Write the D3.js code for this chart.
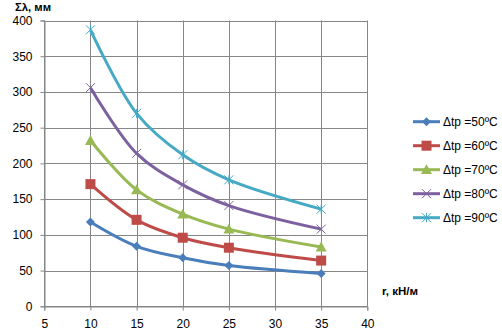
<!DOCTYPE html>
<html>
<head>
<meta charset="utf-8">
<script src="https://cdn.jsdelivr.net/npm/d3@7"></script>
<style>
  html, body { margin: 0; padding: 0; background: #fff; }
  svg { display: block; font-family: "Liberation Sans", Arial, sans-serif; }
</style>
</head>
<body>
<svg id="chart" width="502" height="336"></svg>
<script>
// Loads on r (kN/m) for several temperature differences
const rValues = [10, 15, 20, 25, 35];
const seriesNames = ["Δtp =50ºC", "Δtp =60ºC", "Δtp =70ºC", "Δtp =80ºC", "Δtp =90ºC"];
const s50 = [118, 84, 68, 57, 46];
const s60 = [171, 121, 96, 82, 64];
const s70 = [232, 163, 129, 108, 83];
const s80 = [306, 214, 170, 141, 108];
const s90 = [387, 270, 212, 177, 136];
const xTicks = [5, 10, 15, 20, 25, 30, 35, 40];
const yTicks = [0, 50, 100, 150, 200, 250, 300, 350, 400];

const seriesValues = [s50, s60, s70, s80, s90];
const colors = ["#4a7ebb", "#be4b48", "#98b954", "#7d60a0", "#46aac5"];
const markers = ["diamond", "square", "triangle", "cross", "star"];

const svg = d3.select("#chart");
const x = d3.scaleLinear().domain([5, 40]).range([44.3, 367.3]);
const y = d3.scaleLinear().domain([0, 400]).range([306.3, 20.5]);
const grid = "#868686";

// gridlines
svg.append("g").selectAll("line").data(yTicks).join("line")
  .attr("x1", x(5)).attr("x2", x(40))
  .attr("y1", d => Math.round(y(d)) + 0.5).attr("y2", d => Math.round(y(d)) + 0.5)
  .attr("stroke", grid).attr("stroke-width", 1);
svg.append("g").selectAll("line").data(xTicks).join("line")
  .attr("x1", d => Math.round(x(d)) + 0.5).attr("x2", d => Math.round(x(d)) + 0.5)
  .attr("y1", y(400)).attr("y2", y(0))
  .attr("stroke", grid).attr("stroke-width", 1);

// axes
const yAxis = d3.axisLeft(y).tickValues(yTicks).tickSize(4).tickPadding(8);
const gy = svg.append("g").attr("transform", `translate(${Math.round(x(5)) + 0.5},0)`).call(yAxis);
const xAxis = d3.axisBottom(x).tickValues(xTicks).tickSize(4).tickPadding(9);
const gx = svg.append("g").attr("transform", `translate(0,${Math.round(y(0)) + 0.5})`).call(xAxis);
[gx, gy].forEach(g => {
  g.select(".domain").attr("stroke", grid);
  g.selectAll(".tick line").attr("stroke", grid);
  g.selectAll(".tick text").attr("fill", "#000").attr("font-size", 12)
    .attr("font-family", "'Liberation Sans', Arial, sans-serif");
});

// axis titles
svg.append("text").attr("x", 15).attr("y", 11).attr("font-size", 10.5).attr("font-weight", "bold")
  .attr("textLength", 36).attr("lengthAdjust", "spacingAndGlyphs")
  .text("Σλ, мм");
svg.append("text").attr("x", 382).attr("y", 295).attr("font-size", 11.5).attr("font-weight", "bold")
  .text("r, кН/м");

// marker shapes
function markerPath(type, s) {
  switch (type) {
    case "diamond": return `M0,${-s}L${s},0L0,${s}L${-s},0Z`;
    case "square": return `M${-s},${-s}H${s}V${s}H${-s}Z`;
    case "triangle": return `M0,${-s}L${s},${s * 0.8}L${-s},${s * 0.8}Z`;
    case "cross": return `M${-s},${-s}L${s},${s}M${s},${-s}L${-s},${s}`;
    case "star": return `M${-s},${-s}L${s},${s}M${s},${-s}L${-s},${s}M0,${-s}V${s}`;
  }
}
const markerSize = { diamond: 4.5, square: 5, triangle: 5.5, cross: 4.5, star: 4.5 };
function drawMarker(g, type, color, cx, cy) {
  const filled = type === "diamond" || type === "square" || type === "triangle";
  g.append("path").attr("d", markerPath(type, markerSize[type]))
    .attr("transform", `translate(${cx},${cy})`)
    .attr("fill", filled ? color : "none")
    .attr("stroke", color).attr("stroke-width", filled ? 0 : 1);
}

// series lines
const line = d3.line().x((d, i) => x(rValues[i])).y(d => y(d)).curve(d3.curveCatmullRom.alpha(0.5));
seriesValues.forEach((vals, k) => {
  const g = svg.append("g");
  g.append("path").datum(vals).attr("d", line)
    .attr("fill", "none").attr("stroke", colors[k]).attr("stroke-width", 3)
    .attr("stroke-linejoin", "round");
  vals.forEach((v, i) => drawMarker(g, markers[k], colors[k], x(rValues[i]), y(v)));
});

// legend
const legendY = [121.7, 145.7, 169.7, 193.7, 217.7];
seriesNames.forEach((name, k) => {
  const g = svg.append("g");
  const ly = legendY[k];
  g.append("line").attr("x1", 413).attr("x2", 440).attr("y1", ly).attr("y2", ly)
    .attr("stroke", colors[k]).attr("stroke-width", 3);
  drawMarker(g, markers[k], colors[k], 426.5, ly);
  g.append("text").attr("x", 443).attr("y", ly + 4.5).attr("font-size", 12).text(name);
});
</script>
</body>
</html>
